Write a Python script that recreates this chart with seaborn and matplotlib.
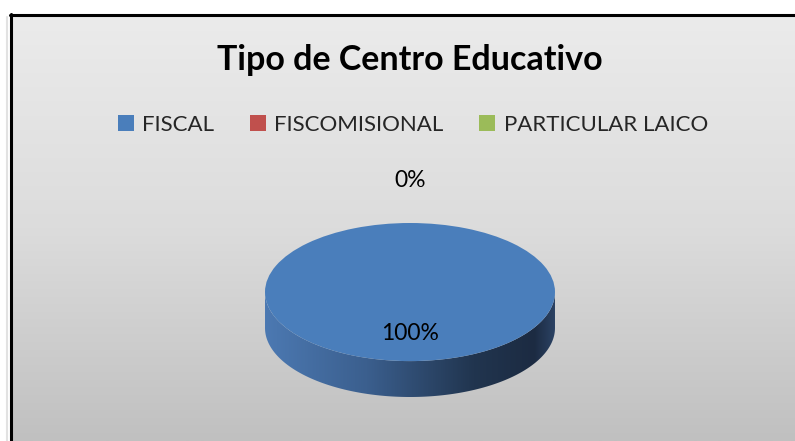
import numpy as np
import matplotlib
matplotlib.use("Agg")
import matplotlib.pyplot as plt
import seaborn as sns
from matplotlib.colors import LinearSegmentedColormap
from matplotlib.patches import Patch, Polygon
from matplotlib.lines import Line2D

# data
categories = ["FISCAL", "FISCOMISIONAL", "PARTICULAR LAICO"]
values = [100, 0, 0]
colors = ["#4a7ebb", "#c0504d", "#9bbb59"]
title = "Tipo de Centro Educativo"

sns.set_theme(style="white")
plt.rcParams["font.family"] = ["Lato", "DejaVu Sans"]

W, H = 795, 441
fig = plt.figure(figsize=(W / 100, H / 100), dpi=100)
fig.patch.set_facecolor("white")

# chart area background (vertical grey gradient)
bg = fig.add_axes([12 / W, 0, 1 - 12 / W, (H - 16) / H])
grad = np.linspace(0, 1, 256).reshape(-1, 1)
bg_cmap = LinearSegmentedColormap.from_list("bg", ["#ebebeb", "#dcdcdc", "#c0c0c0"])
bg.imshow(grad, aspect="auto", cmap=bg_cmap, extent=(0, 1, 0, 1), origin="upper")
bg.set_axis_off()

# frame border
fig.add_artist(Line2D([7 / W, 7 / W], [0, 1 - 17 / H], color="#e2e2e2", lw=1.5))
fig.add_artist(Line2D([10.5 / W, 10.5 / W], [0, 1 - 14 / H], color="black", lw=2.2))
fig.add_artist(Line2D([9.5 / W, 1], [1 - 15 / H, 1 - 15 / H], color="black", lw=2.2))

# pie axes: top face is an ellipse, side drawn below it
depth = 0.52
left, right, top, bottom = 265, 555, 223, 397
ax = fig.add_axes([left / W, (H - bottom) / H, (right - left) / W, (bottom - top) / H])

wedges, _ = ax.pie(values, colors=colors, startangle=90, counterclock=False,
                   radius=1, center=(0, 0), wedgeprops=dict(linewidth=0, zorder=3))
ax.set_aspect("auto")
ax.set_xlim(-1, 1)
ax.set_ylim(-1 - depth, 1)
ax.set_axis_off()

# side of the 3d pie with horizontal shading
t = np.linspace(np.pi, 2 * np.pi, 200)
side = np.vstack([
    np.column_stack([np.cos(t), np.sin(t) - depth]),
    np.column_stack([np.cos(t[::-1]), np.sin(t[::-1])]),
])
side_patch = Polygon(side, closed=True, facecolor="none", edgecolor="none")
ax.add_patch(side_patch)
side_cmap = LinearSegmentedColormap.from_list(
    "side", [(0, "#4c79b2"), (0.35, "#3b5f8e"), (0.72, "#21354f"),
             (0.93, "#1c2b42"), (1, "#2b4263")])
img = ax.imshow(np.linspace(0, 1, 256).reshape(1, -1), cmap=side_cmap, aspect="auto",
                extent=(-1, 1, -1 - depth, 0), zorder=2)
img.set_clip_path(side_patch)

# data labels
total = sum(values)
seen = set()
for w, v in zip(wedges, values):
    pct = v / total * 100
    mid = np.deg2rad((w.theta1 + w.theta2) / 2)
    dist = 0.6 if v > 0 else 1.62
    pos = (round(np.cos(mid) * dist, 3), round(np.sin(mid) * dist, 3))
    if pos in seen:
        continue
    seen.add(pos)
    ax.text(pos[0], pos[1], f"{pct:.0f}%", ha="center", va="center",
            fontsize=16.5, color="black", zorder=5, clip_on=False)

# title and legend
fig.text(410 / W, 1 - 60 / H, title, ha="center", va="center",
         fontsize=24.5, fontweight="bold", color="black")
handles = [Patch(facecolor=c, edgecolor="none") for c in colors]
fig.legend(handles, categories, loc="center", bbox_to_anchor=(413 / W, 1 - 125 / H),
           ncol=3, frameon=False, fontsize=16, handlelength=0.7, handleheight=0.7,
           handletextpad=0.4, columnspacing=1.6)

fig.savefig("out.png", dpi=100)
